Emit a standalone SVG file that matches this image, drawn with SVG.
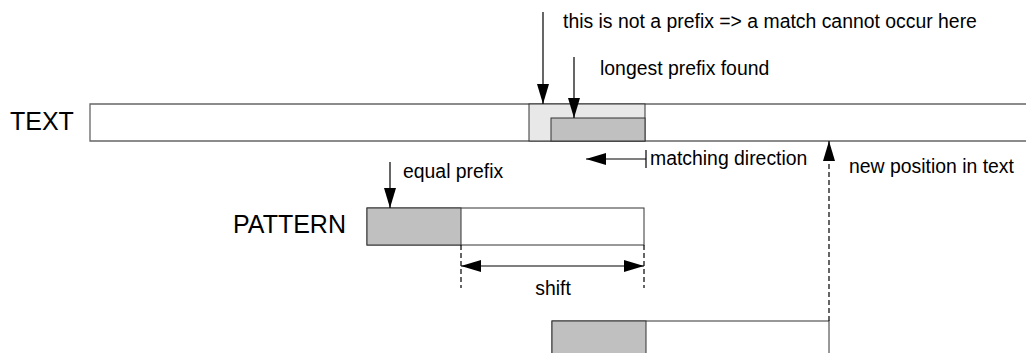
<svg xmlns="http://www.w3.org/2000/svg" width="1026" height="353" viewBox="0 0 1026 353">
<style>
  text { font-family: "Liberation Sans", Arial, sans-serif; fill: #000; }
  .lbl { font-size: 19.4px; }
  .big { font-size: 25px; }
  .edge { stroke: #333; stroke-width: 1; }
  .track { fill: none; stroke: #666; stroke-width: 1.3; }
  .light { fill: #e8e8e8; }
  .dark { fill: #c0c0c0; }
  .white { fill: #fff; }
  .conn { stroke: #000; stroke-width: 1.2; fill: none; }
  .dash { stroke-dasharray: 5 3; }
</style>
<defs>
  <marker id="ah" markerUnits="userSpaceOnUse" markerWidth="20" markerHeight="12" refX="20" refY="6" orient="auto-start-reverse">
    <path d="M0,0 L20,6 L0,12 z" fill="#000"/>
  </marker>
</defs>
<rect width="1026" height="353" fill="#fff"/>

<g id="text-track">
  <path class="track" d="M1026,104 H90 V141 H1026"/>
  <rect class="light edge" x="529" y="104" width="116" height="37"/>
  <rect class="dark edge" x="551" y="118" width="94" height="23"/>
  <text class="big" x="10" y="130">TEXT</text>
</g>

<g id="pattern">
  <rect class="white edge" x="367" y="208" width="277" height="37"/>
  <rect class="dark edge" x="367" y="208" width="94" height="37"/>
  <text class="big" x="233" y="233">PATTERN</text>
</g>

<g id="shifted-pattern">
  <rect class="white edge" x="552" y="321" width="277" height="40"/>
  <rect class="dark edge" x="552" y="321" width="94" height="40"/>
</g>

<g id="labels">
  <text class="lbl" x="563" y="28">this is not a prefix =&gt; a match cannot occur here</text>
  <text class="lbl" x="600" y="75">longest prefix found</text>
  <text class="lbl" x="650" y="165">matching direction</text>
  <text class="lbl" x="849" y="173">new position in text</text>
  <text class="lbl" x="403" y="178">equal prefix</text>
  <text class="lbl" x="553" y="295" text-anchor="middle">shift</text>
</g>

<g id="connectors">
  <line class="conn" x1="543" y1="12" x2="543" y2="104" marker-end="url(#ah)"/>
  <line class="conn" x1="574" y1="57" x2="574" y2="118" marker-end="url(#ah)"/>
  <line class="conn" x1="390" y1="162" x2="390" y2="208" marker-end="url(#ah)"/>
  <line class="conn" x1="646" y1="159" x2="586" y2="159" marker-end="url(#ah)"/>
  <line class="conn" x1="646" y1="150" x2="646" y2="168"/>
  <line class="conn dash" x1="461" y1="245" x2="461" y2="288"/>
  <line class="conn dash" x1="644" y1="245" x2="644" y2="288"/>
  <line class="conn" x1="461" y1="266" x2="644" y2="266" marker-start="url(#ah)" marker-end="url(#ah)"/>
  <line class="conn dash" x1="829" y1="321" x2="829" y2="141" marker-end="url(#ah)"/>
</g>
</svg>
